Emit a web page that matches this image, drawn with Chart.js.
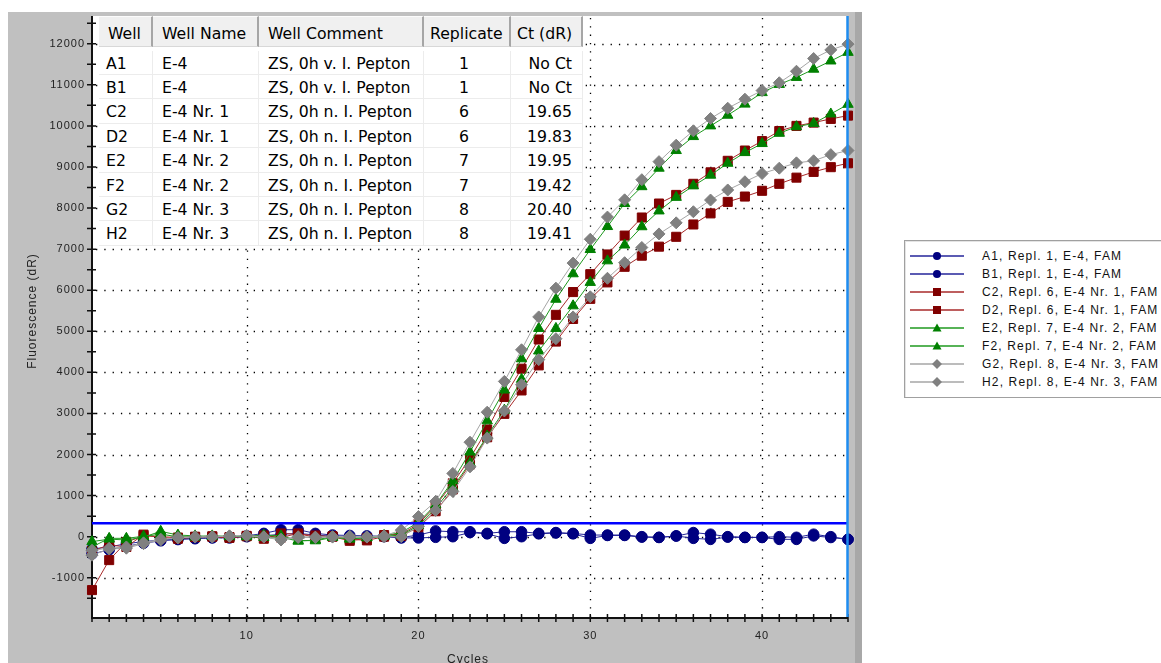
<!DOCTYPE html>
<html>
<head>
<meta charset="utf-8">
<title>Amplification plot – FAM</title>
<script src="https://cdn.jsdelivr.net/npm/chart.js@4/dist/chart.umd.min.js"></script>
<style>
  html, body { margin: 0; padding: 0; background: #fff; }
  #wrap { position: relative; width: 1161px; height: 663px; overflow: hidden; }
  #plot { position: absolute; left: 0; top: 0; }
  #wells { position: absolute; left: 99px; top: 16px; width: 484px; height: 230px;
           background: #fff; font-family: "DejaVu Sans", sans-serif; font-size: 15.7px; color: #000; }
  #wells .hd { position: absolute; top: 0; height: 31px; line-height: 33px; background: #f0f0f0;
               border-top: 1px solid #fcfcfc; box-sizing: border-box; white-space: nowrap;
               border-right: 2px solid #a6a6a6; border-bottom: 1px solid #d8d8d8; }
  #wells .cell { position: absolute; height: 24.4px; line-height: 26px; white-space: nowrap;
                 box-sizing: border-box; border-bottom: 1px solid #ececec; border-right: 1px solid #ececec; }
  #legend { position: absolute; left: 904px; top: 240px; width: 270px; height: 158px; box-sizing: border-box;
            border: 1px solid #a0a0a0; box-shadow: inset 1px 1px 0 #e4e4e4; background: #fff;
            font-family: "Liberation Sans", Arial, sans-serif; font-size: 12px; letter-spacing: 1.15px; color: #111; }
  #legend .row { position: absolute; left: 5px; height: 18px; line-height: 18px; white-space: nowrap; }
  #legend svg { position: absolute; left: 0; top: 3px; }
  #legend span { position: absolute; left: 72px; top: 0; }
</style>
</head>
<body>
<div id="wrap">
  <canvas id="plot" width="1161" height="663"></canvas>
  <div id="wells"></div>
  <div id="legend"></div>
</div>
<script>
// ---- run table ----
const wells      = ['A1', 'B1', 'C2', 'D2', 'E2', 'F2', 'G2', 'H2'];
const wellNames  = ['E-4', 'E-4', 'E-4 Nr. 1', 'E-4 Nr. 1', 'E-4 Nr. 2', 'E-4 Nr. 2', 'E-4 Nr. 3', 'E-4 Nr. 3'];
const comments   = ['ZS, 0h v. I. Pepton', 'ZS, 0h v. I. Pepton', 'ZS, 0h n. I. Pepton', 'ZS, 0h n. I. Pepton',
                    'ZS, 0h n. I. Pepton', 'ZS, 0h n. I. Pepton', 'ZS, 0h n. I. Pepton', 'ZS, 0h n. I. Pepton'];
const replicates = [1, 1, 6, 6, 7, 7, 8, 8];
const ctValues   = ['No Ct', 'No Ct', '19.65', '19.83', '19.95', '19.42', '20.40', '19.41'];
const headers    = ['Well', 'Well Name', 'Well Comment', 'Replicate', 'Ct (dR)'];
const dye        = 'FAM';

// ---- amplification data (dR per cycle) ----
const cycles = [1, 2, 3, 4, 5, 6, 7, 8, 9, 10, 11, 12, 13, 14, 15, 16, 17, 18, 19, 20, 21, 22, 23,
                24, 25, 26, 27, 28, 29, 30, 31, 32, 33, 34, 35, 36, 37, 38, 39, 40, 41, 42, 43, 44, 45];
const dR_A1 = [-300, -250, -170, -120, -80, -50, -30, -20, -10, 20, 80, 170, 170, 80, 40, 30, 20, 10, -20,
               40, 140, 120, 120, 80, 120, 120, 80, 100, 80, 40, 40, 40, 0, -15, 15, 100, 60, 0, -15, -15, 0, -15, 60, 0, -65];
const dR_B1 = [-420, -320, -230, -160, -100, -70, -50, -30, -30, 0, 20, 60, 80, 40, 10, 0, -10, 0, -30,
               -30, -15, 0, 100, 70, -40, 0, 70, 90, 70, -40, 30, 30, -10, -20, 20, -40, -65, -10, -20, -20, -65, -65, 20, -20, -65];
const dR_C2 = [-1300, -570, -130, 20, 0, -20, 0, 10, -10, 20, -50, 80, 60, 30, 0, -100, -40, 40, 60,
               310, 760, 1300, 1910, 2610, 3400, 4090, 4800, 5400, 5955, 6390, 6870, 7330, 7770, 8110, 8320, 8590, 8870, 9150, 9400, 9630, 9875, 10000, 10080, 10170, 10250];
const dR_D2 = [-350, -200, -250, 50, -20, -50, -10, 0, -30, 10, 30, -20, 80, -20, 10, -60, -90, 0, 20,
               230, 620, 1150, 1760, 2420, 2990, 3560, 4170, 4750, 5300, 5790, 6190, 6570, 6840, 7060, 7300, 7600, 7870, 8150, 8280, 8420, 8590, 8740, 8880, 8995, 9090];
const dR_E2 = [-250, -40, -40, 10, 60, 0, -10, 20, 10, 0, -20, -10, -110, -80, 0, -60, -20, 10, 40,
               270, 700, 1200, 1800, 2450, 3080, 3830, 4520, 5070, 5620, 6190, 6715, 7100, 7545, 7930, 8260, 8540, 8800, 9090, 9350, 9570, 9820, 9980, 10060, 10290, 10525];
const dR_F2 = [-120, -60, -80, -10, 130, 40, 20, 10, 0, 20, 40, 20, -90, -100, -20, -40, -30, 30, 100,
               350, 780, 1360, 2060, 2820, 3570, 4330, 5070, 5780, 6400, 6990, 7550, 8110, 8520, 8970, 9400, 9740, 10000, 10260, 10530, 10810, 11010, 11180, 11380, 11580, 11790];
const dR_G2 = [-330, -280, -250, -150, -60, -30, 0, -10, 20, 30, -10, -80, -20, -20, -10, -10, -10, 0, 0,
               250, 640, 1100, 1700, 2400, 3060, 3700, 4310, 4820, 5350, 5840, 6290, 6670, 7040, 7370, 7640, 7910, 8195, 8440, 8640, 8840, 8970, 9100, 9150, 9300, 9400];
const dR_H2 = [-450, -300, -280, -170, -80, -20, -10, 0, 10, 20, 0, -60, 0, -10, 0, 10, 0, 20, 160,
               490, 860, 1540, 2300, 3030, 3780, 4550, 5350, 6050, 6660, 7240, 7780, 8200, 8690, 9130, 9530, 9880, 10180, 10430, 10650, 10860, 11050, 11330, 11640, 11850, 11990];

const thresholdDR = 330;
const xTickLabels = [10, 20, 30, 40];
const yTickLabels = [-1000, 0, 1000, 2000, 3000, 4000, 5000, 6000, 7000, 8000, 9000, 10000, 11000, 12000];

// ---- styling per replicate group ----
const styles = {
  blue:  { marker: '#000080', line: '#25259a', shape: 'circle',   r: 5.3, order: 3 },
  red:   { marker: '#800000', line: '#a82a2a', shape: 'rect',     r: 6.4, order: 2 },
  green: { marker: '#008000', line: '#1f9a1f', shape: 'triangle', r: 6,   order: 1 },
  gray:  { marker: '#808080', line: '#a6a6a6', shape: 'rectRot',  r: 6,   order: 0 }
};
const seriesValues = [dR_A1, dR_B1, dR_C2, dR_D2, dR_E2, dR_F2, dR_G2, dR_H2];
const seriesStyle  = ['blue', 'blue', 'red', 'red', 'green', 'green', 'gray', 'gray'];
const labels = wells.map((w, i) => `${w}, Repl. ${replicates[i]}, ${wellNames[i]}, ${dye}`);

const datasets = seriesValues.map((vals, i) => {
  const s = styles[seriesStyle[i]];
  return {
    label: labels[i],
    data: vals.map((v, k) => ({ x: cycles[k], y: v })),
    borderColor: s.line,
    borderWidth: 1,
    pointStyle: s.shape,
    pointRadius: s.r,
    pointBackgroundColor: s.marker,
    pointBorderColor: s.marker,
    pointBorderWidth: 1,
    tension: 0,
    clip: false,
    order: s.order
  };
});

// ---- frame, dotted grid, cross ticks, threshold and titles ----
function segment(ctx, x1, y1, x2, y2) {
  ctx.beginPath();
  ctx.moveTo(x1, y1);
  ctx.lineTo(x2, y2);
  ctx.stroke();
}

const framePlugin = {
  id: 'frame',
  beforeDraw(chart) {
    const { ctx, chartArea: a } = chart;
    ctx.save();
    ctx.fillStyle = '#c0c0c0';
    ctx.fillRect(8, 12, 854, 651);
    ctx.fillStyle = '#a8a8a8';
    ctx.fillRect(855, 12, 7, 651);
    ctx.fillStyle = '#ffffff';
    ctx.fillRect(a.left, a.top, a.right - a.left, a.bottom - a.top);
    ctx.restore();
    // slightly tracked axis text
    ctx.letterSpacing = '1px';
  },
  beforeDatasetsDraw(chart) {
    const { ctx, chartArea: a, scales: { x, y } } = chart;
    ctx.save();
    ctx.strokeStyle = '#000';
    ctx.lineWidth = 1.3;
    ctx.setLineDash([1.3, 7]);
    yTickLabels.forEach(v => {
      const py = Math.round(y.getPixelForValue(v)) + 0.5;
      segment(ctx, a.left + 4, py, a.right, py);
    });
    xTickLabels.forEach(v => {
      const px = Math.round(x.getPixelForValue(v)) + 0.5;
      segment(ctx, px, a.top + 2, px, a.bottom);
    });
    ctx.setLineDash([]);

    // axis lines
    ctx.strokeStyle = '#111';
    ctx.lineWidth = 2;
    ctx.beginPath();
    ctx.moveTo(a.left, a.top);
    ctx.lineTo(a.left, a.bottom + 1);
    ctx.lineTo(a.right, a.bottom + 1);
    ctx.stroke();

    // tick marks crossing the axes: every 500 dR and every cycle
    ctx.lineWidth = 1.5;
    ctx.beginPath();
    for (let v = -1500; v <= 12500; v += 500) {
      const py = y.getPixelForValue(v);
      ctx.moveTo(a.left - 5, py);
      ctx.lineTo(a.left + 4, py);
    }
    cycles.forEach(c => {
      const px = x.getPixelForValue(c);
      ctx.moveTo(px, a.bottom - 3);
      ctx.lineTo(px, a.bottom + 5);
    });
    ctx.stroke();
    ctx.restore();
  },
  afterDatasetsDraw(chart) {
    const { ctx, chartArea: a, scales: { x, y } } = chart;
    ctx.save();
    // threshold
    const ty = y.getPixelForValue(thresholdDR);
    ctx.strokeStyle = '#0000ff';
    ctx.lineWidth = 2.5;
    segment(ctx, a.left, ty, a.right, ty);
    // last-cycle marker line
    const ex = x.getPixelForValue(cycles[cycles.length - 1]) - 0.5;
    ctx.strokeStyle = '#1e8cf0';
    ctx.lineWidth = 2.5;
    segment(ctx, ex, a.top, ex, a.bottom);
    ctx.restore();
  },
  afterDraw(chart) {
    const { ctx, chartArea: a } = chart;
    ctx.save();
    ctx.fillStyle = '#222';
    ctx.font = '12px "Liberation Sans", Arial, sans-serif';
    ctx.textAlign = 'center';
    ctx.textBaseline = 'middle';
    ctx.fillText('Cycles', (a.left + a.right) / 2 - 2, 660);
    ctx.translate(33, 311);
    ctx.rotate(-Math.PI / 2);
    ctx.fillText('Fluorescence (dR)', 0, 0);
    ctx.restore();
    ctx.letterSpacing = '0px';
  }
};

new Chart(document.getElementById('plot'), {
  type: 'line',
  data: { datasets },
  options: {
    responsive: false,
    animation: false,
    events: [],
    layout: { padding: { left: 0, top: 16, right: 313, bottom: 0 } },
    plugins: { legend: { display: false }, tooltip: { enabled: false } },
    scales: {
      x: {
        type: 'linear', min: 1, max: 45,
        afterFit(s) { s.height = 46; },
        afterBuildTicks(s) { s.ticks = xTickLabels.map(v => ({ value: v })); },
        grid: { display: false, drawTicks: false },
        border: { display: false },
        ticks: { font: { family: 'Liberation Sans', size: 11 }, color: '#222', padding: 12, maxRotation: 0,
                 autoSkip: false, callback: v => String(v) }
      },
      y: {
        type: 'linear', min: -1955, max: 12675,
        afterFit(s) { s.width = 92; },
        afterBuildTicks(s) { s.ticks = yTickLabels.map(v => ({ value: v })); },
        grid: { display: false, drawTicks: false },
        border: { display: false },
        ticks: { font: { family: 'Liberation Sans', size: 11 }, color: '#222', padding: 7, autoSkip: false,
                 callback: v => String(v) }
      }
    }
  },
  plugins: [framePlugin]
});

// ---- run table ----
const colLeft  = [0, 54, 160, 325, 412];
const colWidth = [54, 106, 165, 87, 72];
const table = document.getElementById('wells');
headers.forEach((h, c) => {
  const d = document.createElement('div');
  d.className = 'hd';
  d.style.left = colLeft[c] + 'px';
  d.style.width = colWidth[c] + 'px';
  d.style.paddingLeft = (c >= 3 ? 6 : 9) + 'px';
  d.textContent = h;
  table.appendChild(d);
});
wells.forEach((w, r) => {
  const rowVals = [w, wellNames[r], comments[r], String(replicates[r]), ctValues[r]];
  rowVals.forEach((v, c) => {
    const d = document.createElement('div');
    d.className = 'cell';
    d.style.left = colLeft[c] + 'px';
    d.style.width = colWidth[c] + 'px';
    d.style.top = (34.6 + 24.4 * r) + 'px';
    if (c === 3) { d.style.textAlign = 'center'; d.style.paddingRight = '6px'; }
    else if (c === 4) { d.style.textAlign = 'right'; d.style.paddingRight = '10px'; }
    else { d.style.paddingLeft = (c === 0 ? 7 : 9) + 'px'; }
    d.textContent = v;
    table.appendChild(d);
  });
});

// ---- legend ----
function markerSvg(kind) {
  const s = styles[kind];
  const m = s.marker;
  let shape = '';
  if (kind === 'blue')  shape = `<circle cx="27" cy="6" r="4" fill="${m}"/>`;
  if (kind === 'red')   shape = `<rect x="23" y="2" width="8" height="8" fill="${m}"/>`;
  if (kind === 'green') shape = `<polygon points="27,1.5 31.5,9.5 22.5,9.5" fill="${m}"/>`;
  if (kind === 'gray')  shape = `<polygon points="27,1 32,6 27,11 22,6" fill="${m}"/>`;
  return `<svg width="56" height="12" viewBox="0 0 56 12"><line x1="0" y1="6" x2="54" y2="6" stroke="${s.line}" stroke-width="1.6"/>${shape}</svg>`;
}
const legend = document.getElementById('legend');
labels.forEach((t, i) => {
  const row = document.createElement('div');
  row.className = 'row';
  row.style.top = (6 + 18.05 * i) + 'px';
  row.innerHTML = markerSvg(seriesStyle[i]);
  const sp = document.createElement('span');
  sp.textContent = t;
  row.appendChild(sp);
  legend.appendChild(row);
});
</script>
</body>
</html>
